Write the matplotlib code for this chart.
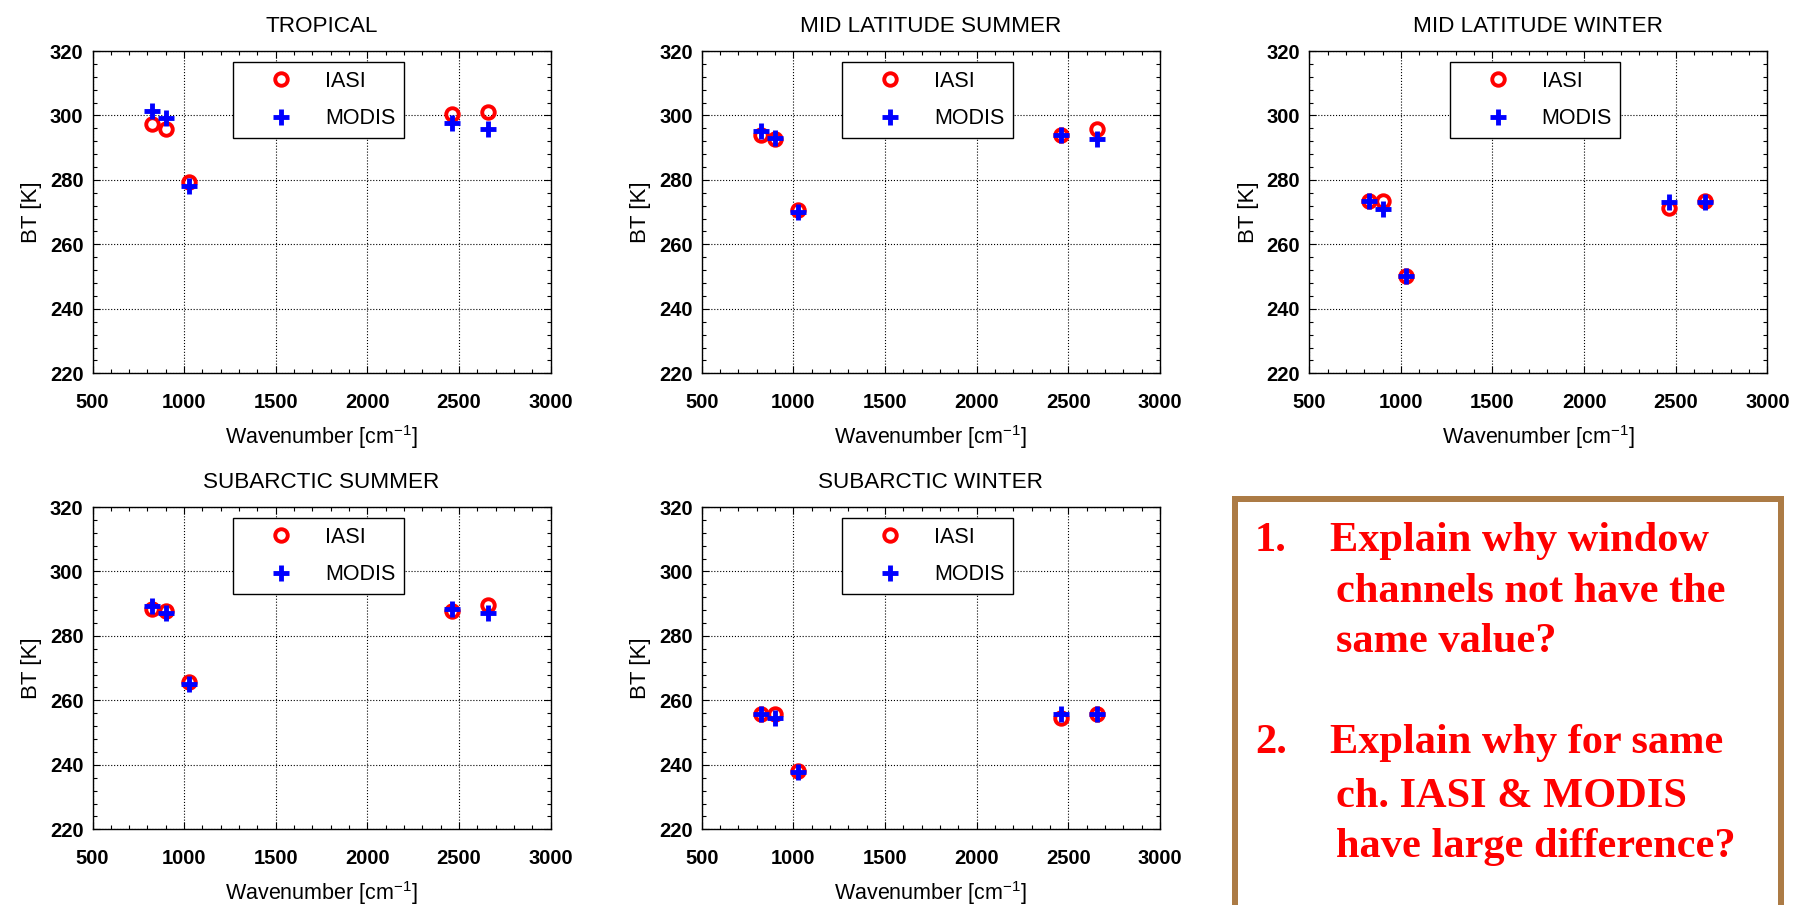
import matplotlib
matplotlib.use("Agg")
import matplotlib.pyplot as plt
from matplotlib.ticker import MultipleLocator
from matplotlib.patches import Rectangle

plt.rcParams['font.family'] = ['Liberation Sans', 'DejaVu Sans']
plt.rcParams['mathtext.fontset'] = 'custom'
plt.rcParams['mathtext.rm'] = 'Liberation Sans'

# ---------------- data ----------------
wavenumber = [826, 900, 1027, 2463, 2658]

titles = ["TROPICAL", "MID LATITUDE SUMMER", "MID LATITUDE WINTER",
          "SUBARCTIC SUMMER", "SUBARCTIC WINTER"]

iasi_tropical = [297.3, 295.8, 279.5, 300.6, 301.1]
modis_tropical = [301.3, 299.3, 278.0, 297.7, 295.8]

iasi_mls = [293.9, 292.6, 270.7, 294.0, 295.7]
modis_mls = [295.2, 293.1, 269.9, 294.0, 292.6]

iasi_mlw = [273.5, 273.5, 250.3, 271.2, 273.5]
modis_mlw = [273.5, 270.9, 250.1, 273.3, 273.3]

iasi_sas = [288.2, 287.8, 265.8, 287.8, 289.6]
modis_sas = [289.4, 287.0, 265.2, 288.5, 287.2]

iasi_saw = [255.7, 255.9, 238.1, 254.4, 255.7]
modis_saw = [255.7, 254.4, 237.8, 255.9, 255.7]

iasi_all = [iasi_tropical, iasi_mls, iasi_mlw, iasi_sas, iasi_saw]
modis_all = [modis_tropical, modis_mls, modis_mlw, modis_sas, modis_saw]

xticks = [500, 1000, 1500, 2000, 2500, 3000]
yticks = [220, 240, 260, 280, 300, 320]

question_lines = [
    ("1.", "Explain why window"),
    ("", "channels not have the"),
    ("", "same value?"),
    ("2.", "Explain why for same"),
    ("", "ch. IASI & MODIS"),
    ("", "have large difference?"),
]

# ---------------- layout ----------------
W, H = 1796, 905
fig = plt.figure(figsize=(W / 100, H / 100), dpi=100)

col_left = [92.5, 701.7, 1309.2]
row_top = [51.0, 507.0]
ax_w, ax_h = 458.2, 322.3
cells = [(0, 0), (0, 1), (0, 2), (1, 0), (1, 1)]

for i, (r, c) in enumerate(cells):
    left = col_left[c] / W
    bottom = 1 - (row_top[r] + ax_h) / H
    ax = fig.add_axes([left, bottom, ax_w / W, ax_h / H])
    ax.plot(wavenumber, iasi_all[i], linestyle='none', marker='o',
            mfc='none', mec='#FF0000', ms=9.0, mew=2.8, label='IASI', zorder=3)
    ax.plot(wavenumber, modis_all[i], linestyle='none', marker='+',
            color='#0000FF', ms=11.0, mew=3.5, label='MODIS', zorder=4)
    ax.set_xlim(500, 3000)
    ax.set_ylim(220, 320)
    ax.set_xticks(xticks)
    ax.set_yticks(yticks)
    ax.xaxis.set_minor_locator(MultipleLocator(100))
    ax.yaxis.set_minor_locator(MultipleLocator(4))
    ax.tick_params(which='both', direction='in', top=True, right=True,
                   color='black', width=0.8)
    ax.tick_params(which='major', length=5)
    ax.tick_params(which='minor', length=3)
    ax.tick_params(axis='x', which='major', pad=14.0, labelsize=14.5)
    ax.tick_params(axis='y', which='major', pad=6.5, labelsize=14.5)
    for lbl in ax.get_xticklabels() + ax.get_yticklabels():
        lbl.set_fontweight('bold')
    for sp in ax.spines.values():
        sp.set_color('black')
        sp.set_linewidth(1.0)
    ax.grid(True, which='major', linestyle=':', color='black', linewidth=0.8)
    ax.set_axisbelow(True)
    ax.set_title(titles[i], fontsize=16.2, pad=13.5)
    ax.set_xlabel(r'Wavenumber [cm$^{\mathregular{-1}}$]', fontsize=15.5, labelpad=8.0)
    ax.set_ylabel('BT [K]', fontsize=16, labelpad=5.5)
    leg = ax.legend(loc='upper left', bbox_to_anchor=(0.307, 0.965),
                    borderaxespad=0, frameon=True, fancybox=False,
                    edgecolor='black', framealpha=1, fontsize=15.5,
                    handlelength=3.68, handletextpad=0.19, borderpad=0.39,
                    labelspacing=0.78, numpoints=1)
    leg.get_frame().set_linewidth(1.0)
    leg.set_zorder(10)

# ---------------- question box ----------------
bw = 6
box = Rectangle(((1232 + bw / 2) / W, -0.05), (1784 - 1232 - bw) / W,
                1 - (496 + bw / 2) / H + 0.05, transform=fig.transFigure,
                facecolor='white', edgecolor='#AC7B45', linewidth=bw * 0.72,
                zorder=1)
fig.patches.append(box)

baselines = [551, 602, 652, 753, 807, 857]
for (num, txt), yb in zip(question_lines, baselines):
    if num:
        fig.text(1255 / W, 1 - yb / H, num, family='Liberation Serif',
                 fontweight='bold', fontsize=30.5, color='#FF0000', va='baseline')
        fig.text(1330 / W, 1 - yb / H, txt, family='Liberation Serif',
                 fontweight='bold', fontsize=30.5, color='#FF0000', va='baseline')
    else:
        fig.text(1336 / W, 1 - yb / H, txt, family='Liberation Serif',
                 fontweight='bold', fontsize=30.5, color='#FF0000', va='baseline')

fig.savefig('out.png', dpi=100)
